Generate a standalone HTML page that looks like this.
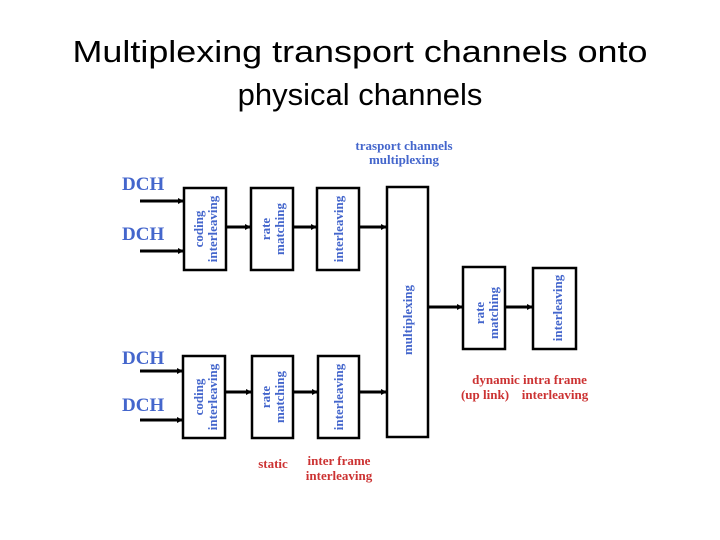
<!DOCTYPE html>
<html><head><meta charset="utf-8"><style>
html,body{margin:0;padding:0;background:#fff;}
svg{display:block;}
.t{font-family:"Liberation Sans",Arial,sans-serif;font-size:31px;fill:#000;}
.b{font-family:"Liberation Serif",serif;font-weight:bold;font-size:13px;fill:#4466cc;}
.d{font-family:"Liberation Serif",serif;font-weight:bold;font-size:19px;fill:#4466cc;}
.r{font-family:"Liberation Serif",serif;font-weight:bold;font-size:13px;fill:#cc3333;}
rect{fill:#fff;stroke:#000;stroke-width:2.5;}
line{stroke:#000;stroke-width:3;}
</style></head><body>
<svg width="720" height="540" viewBox="0 0 720 540">
<defs><marker id="a" markerWidth="6" markerHeight="6" refX="5" refY="3" orient="auto" markerUnits="userSpaceOnUse"><path d="M0,0 L6,3 L0,6 z" fill="#000"/></marker></defs>
<text class="t" x="360" y="62" text-anchor="middle" textLength="575" lengthAdjust="spacingAndGlyphs">Multiplexing transport channels onto</text>
<text class="t" x="360" y="105" text-anchor="middle">physical channels</text>

<text class="b" x="404" y="150" text-anchor="middle">trasport channels</text>
<text class="b" x="404" y="164" text-anchor="middle">multiplexing</text>

<text class="d" x="122" y="190">DCH</text>
<text class="d" x="122" y="240">DCH</text>
<text class="d" x="122" y="364">DCH</text>
<text class="d" x="122" y="411">DCH</text>

<!-- top row -->
<line x1="140" y1="201" x2="183" y2="201" marker-end="url(#a)"/>
<line x1="140" y1="251" x2="183" y2="251" marker-end="url(#a)"/>
<rect x="184" y="188" width="42" height="82"/>
<rect x="251" y="188" width="42" height="82"/>
<rect x="317" y="188" width="42" height="82"/>
<line x1="226" y1="227" x2="250" y2="227" marker-end="url(#a)"/>
<line x1="293" y1="227" x2="316" y2="227" marker-end="url(#a)"/>
<line x1="359" y1="227" x2="386" y2="227" marker-end="url(#a)"/>
<text class="b" transform="translate(203,229) rotate(-90)" text-anchor="middle">coding</text>
<text class="b" transform="translate(217,229) rotate(-90)" text-anchor="middle">interleaving</text>
<text class="b" transform="translate(270,229) rotate(-90)" text-anchor="middle">rate</text>
<text class="b" transform="translate(284,229) rotate(-90)" text-anchor="middle">matching</text>
<text class="b" transform="translate(343,229) rotate(-90)" text-anchor="middle">interleaving</text>

<!-- bottom row -->
<line x1="140" y1="371" x2="182" y2="371" marker-end="url(#a)"/>
<line x1="140" y1="420" x2="182" y2="420" marker-end="url(#a)"/>
<rect x="183" y="356" width="42" height="82"/>
<rect x="252" y="356" width="41" height="82"/>
<rect x="318" y="356" width="41" height="82"/>
<line x1="225" y1="392" x2="251" y2="392" marker-end="url(#a)"/>
<line x1="293" y1="392" x2="317" y2="392" marker-end="url(#a)"/>
<line x1="359" y1="392" x2="386" y2="392" marker-end="url(#a)"/>
<text class="b" transform="translate(203,397) rotate(-90)" text-anchor="middle">coding</text>
<text class="b" transform="translate(217,397) rotate(-90)" text-anchor="middle">interleaving</text>
<text class="b" transform="translate(270,397) rotate(-90)" text-anchor="middle">rate</text>
<text class="b" transform="translate(284,397) rotate(-90)" text-anchor="middle">matching</text>
<text class="b" transform="translate(343,397) rotate(-90)" text-anchor="middle">interleaving</text>

<!-- mux -->
<rect x="387" y="187" width="41" height="250"/>
<text class="b" transform="translate(412,320) rotate(-90)" text-anchor="middle">multiplexing</text>

<line x1="428" y1="307" x2="462" y2="307" marker-end="url(#a)"/>
<rect x="463" y="267" width="42" height="82"/>
<line x1="505" y1="307" x2="532" y2="307" marker-end="url(#a)"/>
<rect x="533" y="268" width="43" height="81"/>
<text class="b" transform="translate(484,313) rotate(-90)" text-anchor="middle">rate</text>
<text class="b" transform="translate(498,313) rotate(-90)" text-anchor="middle">matching</text>
<text class="b" transform="translate(562,308) rotate(-90)" text-anchor="middle">interleaving</text>

<text class="r" x="496" y="384" text-anchor="middle">dynamic</text>
<text class="r" x="485" y="399" text-anchor="middle">(up link)</text>
<text class="r" x="555" y="384" text-anchor="middle">intra frame</text>
<text class="r" x="555" y="399" text-anchor="middle">interleaving</text>
<text class="r" x="273" y="468" text-anchor="middle">static</text>
<text class="r" x="339" y="465" text-anchor="middle">inter frame</text>
<text class="r" x="339" y="480" text-anchor="middle">interleaving</text>
</svg>
</body></html>
